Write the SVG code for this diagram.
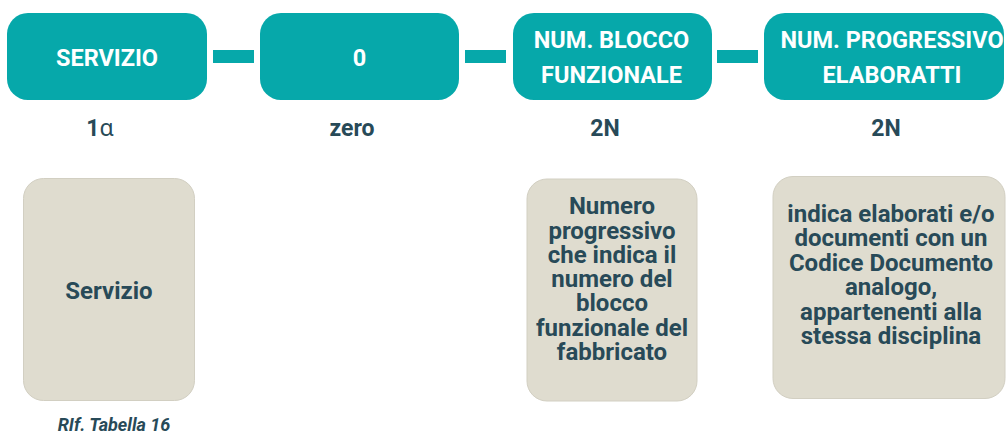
<svg xmlns="http://www.w3.org/2000/svg" width="1007" height="433" viewBox="0 0 1007 433">
<style>
.hdr{fill:#06a8aa}
.lbl{fill:#ffffff;font-family:Roboto,"Liberation Sans",sans-serif;font-weight:700;font-size:23.5px;text-anchor:middle}
.sub{fill:#284a58;font-family:Roboto,"Liberation Sans",sans-serif;font-weight:700;font-size:23px;text-anchor:middle}
.card{fill:#dfdccf;stroke:#d2cfc2;stroke-width:1}
.body{fill:#284a58;font-family:Roboto,"Liberation Sans",sans-serif;font-weight:700;font-size:24px;text-anchor:middle}
.note{fill:#284a58;font-family:Roboto,"Liberation Sans",sans-serif;font-weight:700;font-style:italic;font-size:18px;text-anchor:middle}
</style>
<rect width="1007" height="433" fill="#ffffff"/>
<g id="connectors">
<rect class="hdr" x="213" y="50" width="41" height="13"/>
<rect class="hdr" x="465" y="50" width="41" height="13"/>
<rect class="hdr" x="717" y="50" width="41" height="13"/>
</g>
<g id="node-servizio">
<rect class="hdr" x="7" y="13" width="200" height="87" rx="21"/>
<text class="lbl" x="107" y="65.5">SERVIZIO</text>
</g>
<g id="node-zero">
<rect class="hdr" x="260" y="13" width="199" height="87" rx="21"/>
<text class="lbl" x="359.5" y="66">0</text>
</g>
<g id="node-blocco">
<rect class="hdr" x="513" y="13" width="199" height="87" rx="21"/>
<text class="lbl" x="611.5" y="48.3">NUM. BLOCCO</text>
<text class="lbl" x="611.5" y="82.7">FUNZIONALE</text>
</g>
<g id="node-progressivo">
<rect class="hdr" x="764" y="13" width="240" height="87" rx="21"/>
<text class="lbl" x="892" y="48.3">NUM. PROGRESSIVO</text>
<text class="lbl" x="892" y="82.7">ELABORATTI</text>
</g>
<g id="sublabels">
<text class="sub" x="100" y="136">1<tspan style="font-weight:400;font-family:'Noto Sans','DejaVu Sans',sans-serif">α</tspan></text>
<text class="sub" x="352" y="136">zero</text>
<text class="sub" x="605" y="136">2N</text>
<text class="sub" x="886" y="136">2N</text>
</g>
<g id="card-servizio">
<rect class="card" x="23.5" y="178.5" width="171" height="222" rx="20"/>
<text class="body" x="109" y="299">Servizio</text>
</g>
<g id="card-blocco">
<rect class="card" x="527" y="179" width="170" height="222" rx="20"/>
<text class="body" x="612" y="214.2">Numero</text>
<text class="body" x="612" y="238.5">progressivo</text>
<text class="body" x="612" y="262.8">che indica il</text>
<text class="body" x="612" y="287">numero del</text>
<text class="body" x="612" y="311.4">blocco</text>
<text class="body" x="612" y="335.7">funzionale del</text>
<text class="body" x="612" y="360">fabbricato</text>
</g>
<g id="card-progressivo">
<rect class="card" x="773" y="176.5" width="232" height="222" rx="20"/>
<text class="body" x="891" y="222">indica elaborati e/o</text>
<text class="body" x="891" y="246.4">documenti con un</text>
<text class="body" x="891" y="270.8">Codice Documento</text>
<text class="body" x="891" y="295.2">analogo,</text>
<text class="body" x="891" y="319.6">appartenenti alla</text>
<text class="body" x="891" y="344">stessa disciplina</text>
</g>
<g id="note">
<text class="note" x="114" y="431">RIf. Tabella 16</text>
</g>
</svg>
